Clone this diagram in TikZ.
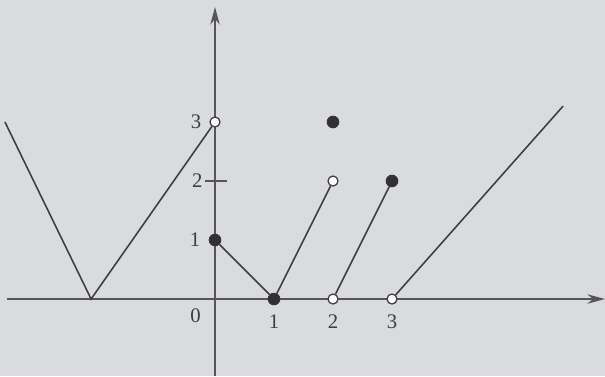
\documentclass[tikz,border=0pt]{standalone}
\usepackage{fontspec}
\setmainfont{Liberation Serif}
\usetikzlibrary{arrows.meta}
\definecolor{bg}{RGB}{218,219,223}
\definecolor{ink}{RGB}{60,60,66}
\definecolor{axis}{RGB}{85,85,90}
\begin{document}
\begin{tikzpicture}[x=1cm,y=1cm,
  axisline/.style={draw=axis, line width=0.6pt},
  graphline/.style={draw=ink, line width=0.75pt},
  opendot/.style={circle, draw=ink, fill=white, line width=0.6pt, inner sep=0pt, minimum size=0.17cm},
  fulldot/.style={circle, draw=ink!90!black, fill=ink!80!black, inner sep=0pt, minimum size=0.2cm},
  lab/.style={font=\fontsize{10}{12}\selectfont, text=ink, inner sep=1pt}]
\fill[bg] (-3.644,-1.305) rectangle (6.610,5.068);
\useasboundingbox (-3.644,-1.305) rectangle (6.610,5.068);
% axes
\coordinate (xs) at (-3.525,0);
\coordinate (xe) at (6.61,0);
\coordinate (ys) at (0,-1.305);
\coordinate (ye) at (0,4.95);
\draw[axisline, -{Stealth[length=0.3cm,width=0.16cm]}] (xs) -- (xe);
\draw[axisline, -{Stealth[length=0.3cm,width=0.16cm]}] (ys) -- (ye);
% tick at y=2
\coordinate (t1) at (-0.17,2);
\coordinate (t2) at (0.2,2);
\draw[axisline] (t1) -- (t2);
% labels
\node[lab] (l0) at (-0.33,-0.29) {0};
\node[lab] (lx1) at (1,-0.39) {1};
\node[lab] (lx2) at (2,-0.39) {2};
\node[lab] (lx3) at (3,-0.39) {3};
\node[lab] (ly1) at (-0.34,1) {1};
\node[lab] (ly2) at (-0.3,2) {2};
\node[lab] (ly3) at (-0.32,3) {3};
% graph points
\coordinate (a) at (-3.56,3);
\coordinate (v) at (-2.1,0);
\coordinate (e) at (5.9,3.27);
\node[opendot] (p03) at (0,3) {};
\node[opendot] (p22) at (2,2) {};
\node[opendot] (p20) at (2,0) {};
\node[opendot] (p30) at (3,0) {};
\node[fulldot] (p01) at (0,1) {};
\node[fulldot] (p10) at (1,0) {};
\node[fulldot] (p23) at (2,3) {};
\node[fulldot] (p32) at (3,2) {};
% graph lines
\draw[graphline] (a) -- (v) -- (p03);
\draw[graphline] (p01) -- (p10);
\draw[graphline] (p10) -- (p22);
\draw[graphline] (p20) -- (p32);
\draw[graphline] (p30) -- (e);
\end{tikzpicture}
\end{document}
